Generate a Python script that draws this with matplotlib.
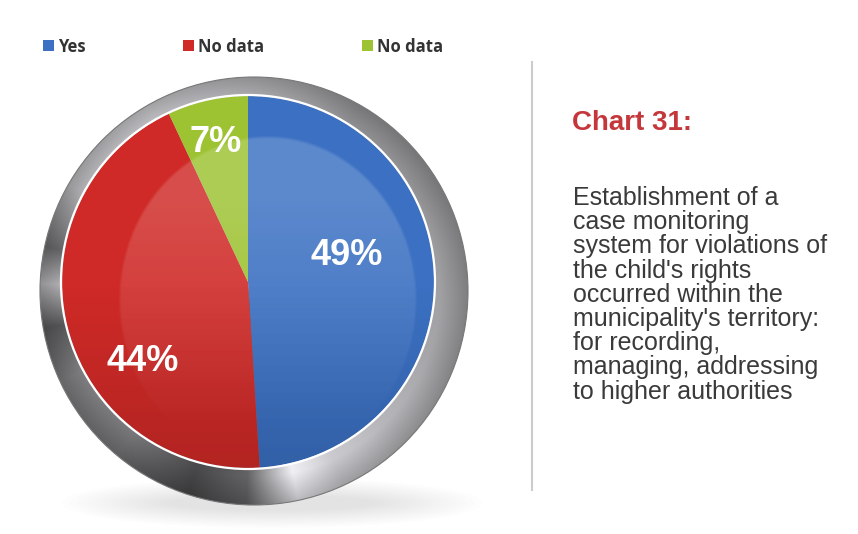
import numpy as np
import matplotlib
matplotlib.use("Agg")
import matplotlib.pyplot as plt
from matplotlib.patches import Circle, Ellipse

# data
legend_labels = ["Yes", "No data", "No data"]
shares = [49, 44, 7]
pct_labels = ["49%", "44%", "7%"]
colors = ["#3b70c2", "#cf2a27", "#9dc232"]
title = "Chart 31:"
description = ("Establishment of a\ncase monitoring\nsystem for violations of\n"
               "the child's rights\noccurred within the\nmunicipality's territory:\n"
               "for recording,\nmanaging, addressing\nto higher authorities")

W, H = 858, 534
fig = plt.figure(figsize=(W / 100, H / 100), dpi=100)
ax = fig.add_axes([0, 0, 1, 1])

def Y(y_img):
    return H - y_img

# geometry (pixels, image coords)
pie_cx, pie_cy, pie_r = 248, 282, 186
ring_cx, ring_cy, ring_r = 254, 291, 214

# soft shadow under the ring
for i in range(14):
    ax.add_patch(Ellipse((272, Y(503)), 420 - i * 16, 50 - i * 2.6,
                         color="#777777", alpha=0.011, lw=0, zorder=0))

# metallic ring: angular gradient clipped to a circle
xs = np.linspace(ring_cx - ring_r, ring_cx + ring_r, 500)
ys = np.linspace(Y(ring_cy) - ring_r, Y(ring_cy) + ring_r, 500)
gx, gy = np.meshgrid(xs, ys)
ang = np.degrees(np.arctan2(gy - Y(ring_cy), gx - ring_cx)) % 360
rad = np.hypot(gx - ring_cx, gy - Y(ring_cy)) / ring_r
key_ang = [0, 30, 60, 90, 120, 150, 168, 178, 190, 205, 230, 252, 268, 282, 295, 315, 340, 360]
key_val = [0.62, 0.58, 0.58, 0.70, 0.80, 0.74, 0.42, 0.72, 0.35, 0.50, 0.46, 0.28, 0.38, 0.92, 0.78, 0.70, 0.64, 0.62]
bright = np.interp(ang, key_ang, key_val)
bright = bright * (0.80 + 0.22 * np.clip((1 - rad) / 0.13, 0, 1))
bright = np.clip(bright, 0, 1)
rgb = np.dstack([bright, bright, bright * 1.02]).clip(0, 1)
ring_clip = Circle((ring_cx, Y(ring_cy)), ring_r, transform=ax.transData)
im = ax.imshow(rgb, extent=(xs[0], xs[-1], ys[0], ys[-1]), origin="lower",
               interpolation="bilinear", zorder=1)
im.set_clip_path(ring_clip)
ax.add_patch(Circle((ring_cx, Y(ring_cy)), ring_r, fill=False, ec="#777777", lw=0.8, zorder=1.5))

# pie
wedges, _ = ax.pie(shares, colors=colors, startangle=90, counterclock=False,
                   center=(pie_cx, Y(pie_cy)), radius=pie_r,
                   wedgeprops=dict(linewidth=0))
for w in wedges:
    w.set_zorder(2)
ax.add_patch(Circle((pie_cx, Y(pie_cy)), pie_r + 1, fill=False, ec="white", lw=1.6, zorder=4))

# glossy shading over the pie: a white highlight layer and a dark lower layer
px = np.linspace(pie_cx - pie_r, pie_cx + pie_r, 400)
py = np.linspace(Y(pie_cy) - pie_r, Y(pie_cy) + pie_r, 400)
qx, qy = np.meshgrid(px, py)
ell = ((qx - 268) / 150) ** 2 + ((qy - Y(300)) / 165) ** 2
inside = np.clip((1 - ell) / 0.04, 0, 1)
fade = np.clip((qy - Y(430)) / 230, 0, 1)
hi = np.ones((400, 400, 4))
hi[..., 3] = 0.17 * inside * fade
lo = np.zeros((400, 400, 4))
lo[..., 3] = 0.14 * np.clip((Y(pie_cy) - qy) / pie_r, 0, 1)
for layer in (lo, hi):
    clip = Circle((pie_cx, Y(pie_cy)), pie_r, transform=ax.transData)
    im2 = ax.imshow(layer, extent=(px[0], px[-1], py[0], py[-1]), origin="lower",
                    interpolation="bilinear", zorder=3)
    im2.set_clip_path(clip)

# percentage labels (angle from centre, distance as fraction of radius)
label_ang = [15, 217, 103]
label_dist = [0.55, 0.71, 0.77]
for txt, a, d in zip(pct_labels, label_ang, label_dist):
    lx = pie_cx + d * pie_r * np.cos(np.radians(a))
    ly = Y(pie_cy) + d * pie_r * np.sin(np.radians(a))
    ax.text(lx, ly, txt, color="white", fontsize=26, fontweight="bold",
            family="Liberation Sans", ha="center", va="center", zorder=5)

# legend
ax.legend(wedges, legend_labels, ncol=3, loc="upper left", mode="expand",
          bbox_to_anchor=(36 / W, Y(51) / H, 414 / W, 20 / H), bbox_transform=fig.transFigure,
          frameon=False, handlelength=0.65, handleheight=0.65, handletextpad=0.25,
          borderaxespad=0, prop=dict(family="Open Sans", weight="bold", size=12),
          labelcolor="#333333")

# divider
ax.plot([532, 532], [Y(62), Y(490)], color="#cccccc", lw=1.5, zorder=1)

# title + description
ax.text(572, Y(123), title, color="#c4373b", fontsize=20, fontweight="bold",
        family="Liberation Sans", ha="left", va="center")
ax.text(573, Y(186), description, color="#3a3a3a", fontsize=18,
        family="Liberation Sans", ha="left", va="top", linespacing=1.01)

ax.set_xlim(0, W)
ax.set_ylim(0, H)
ax.set_aspect("equal")
ax.axis("off")

fig.savefig("out.png", dpi=100, facecolor="white")
